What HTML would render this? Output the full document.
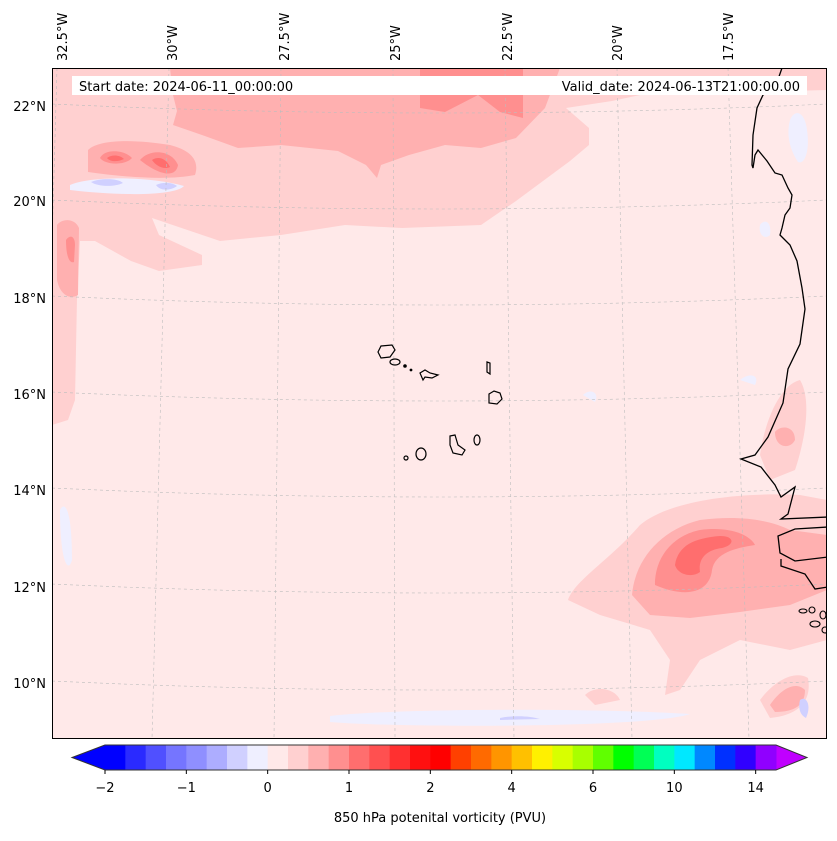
<!DOCTYPE html>
<html><head><meta charset="utf-8">
<style>
body{margin:0;background:#fff;width:837px;height:836px;overflow:hidden;font-family:"Liberation Sans","DejaVu Sans",sans-serif;}
svg text{font-family:"DejaVu Sans","Liberation Sans",sans-serif;font-size:13px;fill:#000;}
</style></head>
<body>
<svg id="fig" width="837" height="836" viewBox="0 0 837 836">
<defs><clipPath id="mapclip"><rect x="52" y="68" width="775" height="671"/></clipPath></defs>
<g clip-path="url(#mapclip)">
<rect x="52" y="68" width="775" height="671" fill="#ffe9e9"/>
<path fill="#ffd0d0" d="M52,68 L827,68 L827,90 L640,95 L612,101 L566,108 L589,128 L589,145 L570,161 L516,201 L481,225 L402,228 L345,225 L281,235 L220,241 L152,218 L159,235 L202,255 L202,265 L159,271 L131,261 L95,241 L80,241 L77,298 L75,400 L68,420 L52,425 Z"/>
<path fill="#ffd0d0" d="M568,600 C575,580 610,560 640,525 C670,500 740,492 800,495 L827,500 L827,640 L790,650 L740,640 L700,660 L680,690 L665,695 L670,660 L650,630 L600,615 Z"/>
<path fill="#ffd0d0" d="M760,455 C765,420 780,385 800,380 C812,400 805,440 795,470 L770,480 Z"/>
<path fill="#ffd0d0" d="M760,700 C775,680 795,670 808,678 C812,700 800,715 770,718 Z M585,695 C595,685 615,688 620,700 L595,705 Z"/>
<path fill="#ffb0b0" d="M170,68 L560,68 L545,108 L516,138 L481,148 L445,145 L409,155 L381,165 L377,178 L366,165 L338,151 L281,145 L238,148 L202,135 L173,125 L177,111 L173,95 Z"/>
<path fill="#ffb0b0" d="M88,150 C100,138 140,140 170,145 C190,150 200,160 195,175 C170,180 130,178 88,172 Z M57,225 C62,218 75,218 79,228 L78,295 C70,300 60,295 57,280 Z"/>
<path fill="#ffb0b0" d="M632,595 C635,560 660,530 700,520 C740,515 770,520 790,530 L827,535 L827,590 L790,605 L740,612 L690,618 L650,615 Z"/>
<path fill="#ffb0b0" d="M770,705 C780,690 795,680 805,690 C805,705 795,712 775,712 Z M775,432 C780,425 795,425 795,440 C790,450 775,448 775,432 Z"/>
<path fill="#ff8f8f" d="M420,68 L523,68 L523,118 L500,112 L478,95 L445,112 L420,108 Z"/>
<path fill="#ff8f8f" d="M100,158 C105,148 125,150 132,158 C125,166 105,165 100,158 Z M140,160 C150,148 172,150 178,165 C176,178 160,176 140,160 Z M66,240 C70,234 75,236 75,245 L74,262 C69,264 66,255 66,240 Z"/>
<path fill="#ff8f8f" d="M655,585 C655,555 675,535 700,530 C730,526 750,535 755,545 C735,548 715,553 712,570 C710,590 690,600 655,585 Z"/>
<path fill="#ff6e6e" d="M675,565 C678,545 695,538 720,536 C735,536 735,545 722,548 C705,550 698,560 700,572 C692,578 678,575 675,565 Z M107,158 C112,154 120,155 124,159 C118,162 110,162 107,158 Z M152,160 C158,156 166,158 170,167 C164,170 156,166 152,160 Z"/>
<path fill="#efefff" d="M70,185 C90,176 150,176 184,186 C175,196 120,196 70,190 Z M330,716 C400,708 600,708 690,714 C650,728 400,728 330,722 Z M583,395 C590,388 600,392 595,402 Z M60,510 C65,500 72,510 72,560 C68,575 60,560 60,510 Z M740,380 C750,372 760,375 755,385 Z M790,120 C795,108 805,112 807,130 C810,150 805,165 798,162 C790,150 786,135 790,120 Z M760,225 C765,218 772,222 770,235 C765,240 758,235 760,225 Z"/>
<path fill="#d0d0ff" d="M91,182 C100,178 118,178 123,183 C115,187 98,187 91,182 Z M156,185 C162,182 172,182 177,186 C170,191 160,191 156,185 Z M500,718 C515,715 530,716 540,719 L500,720 Z M800,700 C806,695 812,705 806,718 C800,715 798,708 800,700 Z"/>
<g fill="none" stroke="#bdbdbd" stroke-width="0.6" stroke-dasharray="3,3">
<path d="M52,104 Q440,122 827,104"/><path d="M52,200 Q440,218 827,200"/><path d="M52,296 Q440,314 827,296"/><path d="M52,392 Q440,410 827,392"/><path d="M52,488 Q440,506 827,488"/><path d="M52,584 Q440,602 827,584"/><path d="M52,681 Q440,699 827,681"/>
<path d="M57,68 L38,739"/><path d="M169,68 L152,739"/><path d="M281,68 L274,739"/><path d="M393,68 L395,739"/><path d="M505,68 L514,739"/><path d="M617,68 L632,739"/><path d="M728,68 L749,739"/>
</g>
<polyline fill="none" stroke="#000" stroke-width="1.3" points="782,68 775,88 763,95 757,108 753,135 752,165 753,168 755,155 758,150 767,161 775,173 782,175 788,188 792,195 790,208 785,215 782,228 780,235 790,245 797,261 802,288 805,309 800,344 788,369 783,403 768,437 755,455 741,459 761,467 775,485 781,497 795,487 788,514 781,519 828,517"/>
<polyline fill="none" stroke="#000" stroke-width="1.3" points="828,527 795,529 778,536 780,553 795,561 828,557"/>
<polyline fill="none" stroke="#000" stroke-width="1.3" points="781,559 781,566 805,574 815,589 828,587"/>
<g fill="none" stroke="#000" stroke-width="1.1">
<ellipse cx="803" cy="611" rx="4" ry="2"/><ellipse cx="812" cy="610" rx="3" ry="3"/><ellipse cx="815" cy="624" rx="5" ry="3"/><ellipse cx="823" cy="615" rx="3" ry="4"/><ellipse cx="825" cy="630" rx="3" ry="3"/>
</g>
<g fill="none" stroke="#000" stroke-width="1.2">
<path d="M378,352 L381,346 L392,345 L395,350 L390,357 L381,358 Z"/>
<ellipse cx="395" cy="362" rx="5" ry="3"/>
<circle cx="405" cy="366" r="1.2" fill="#000"/><circle cx="411" cy="370" r="0.8" fill="#000"/>
<path d="M420,373 L425,370 L430,373 L438,375 L432,378 L425,377 L423,380 Z"/>
<path d="M487,362 L490,363 L490,374 L487,372 Z"/>
<path d="M489,394 L494,391 L500,393 L502,399 L497,404 L489,403 Z"/>
<ellipse cx="477" cy="440" rx="3" ry="5"/>
<path d="M450,436 L455,435 L458,445 L465,450 L462,455 L453,453 L450,445 Z"/>
<ellipse cx="421" cy="454" rx="5" ry="6"/>
<circle cx="406" cy="458" r="2"/>
</g>
</g>
<rect x="52.5" y="68.5" width="774" height="670" fill="none" stroke="#000" stroke-width="1"/>
<rect x="72" y="76" width="236" height="19" fill="#fff"/>
<rect x="304" y="76" width="503" height="19" fill="#fff"/>
<text x="79" y="91">Start date: 2024-06-11_00:00:00</text>
<text x="800" y="91" text-anchor="end">Valid_date: 2024-06-13T21:00:00.00</text>
<g id="latlabels"></g>
<g id="lonlabels"></g>
<g id="cbar"></g>
<text x="440" y="822" text-anchor="middle">850 hPa potenital vorticity (PVU)</text>
</svg>
<script>
const latLabels=["22°N","20°N","18°N","16°N","14°N","12°N","10°N"];
const latY=[106,201,298,394,490,587,683];
const lonLabels=["32.5°W","30°W","27.5°W","25°W","22.5°W","20°W","17.5°W"];
const lonX=[62,172,284,395,507,617,728];
const cbColors=["#0000ff","#2a2aff","#5050ff","#7575ff","#8f8fff","#adadff","#d0d0ff","#efefff","#ffe9e9","#ffd0d0","#ffb0b0","#ff8f8f","#ff6e6e","#ff5050","#ff3030","#ff1010","#ff0000","#ff4000","#ff6a00","#ff9500","#ffc000","#fff000","#d8ff00","#a8ff00","#60ff00","#00ff00","#00ff55","#00ffc0","#00e8ff","#0088ff","#0030ff","#3000ff","#9000ff"];
const cbTicks=["\u22122","\u22121","0","1","2","4","6","10","14"];
const NS="http://www.w3.org/2000/svg";
function mk(tag,attrs,parent){const e=document.createElementNS(NS,tag);for(const k in attrs)e.setAttribute(k,attrs[k]);parent.appendChild(e);return e;}
const lat=document.getElementById('latlabels');
latLabels.forEach((t,i)=>{const e=mk('text',{x:46,y:latY[i]+5,'text-anchor':'end'},lat);


e.textContent=t;});
const lon=document.getElementById('lonlabels');
lonLabels.forEach((t,i)=>{const e=mk('text',{x:0,y:0,transform:`translate(${lonX[i]+5},61) rotate(-90)`},lon);


e.textContent=t;});
const cb=document.getElementById('cbar');
const x0=105,x1=776,y0=745,y1=770,n=cbColors.length,w=(x1-x0)/n;
mk('polygon',{points:`${x0},${y0} 72,${(y0+y1)/2} ${x0},${y1}`,fill:"#0000ff"},cb);
mk('polygon',{points:`${x1},${y0} 807,${(y0+y1)/2} ${x1},${y1}`,fill:"#c000ff"},cb);
cbColors.forEach((c,i)=>{const r=mk('rect',{x:x0+i*w,y:y0,width:w+0.5,height:y1-y0,fill:c},cb);

});
mk('polygon',{points:`${x0},${y0} 72,${(y0+y1)/2} ${x0},${y1} ${x1},${y1} 807,${(y0+y1)/2} ${x1},${y0}`,fill:"none",stroke:"#333","stroke-width":1},cb);
cbTicks.forEach((t,i)=>{const x=x0+i*4*w;
mk('line',{x1:x,x2:x,y1:y1,y2:y1+4,stroke:"#000"},cb);
const e=mk('text',{x:x,y:y1+22,'text-anchor':'middle'},cb);


e.textContent=t;});
</script>
</body></html>
